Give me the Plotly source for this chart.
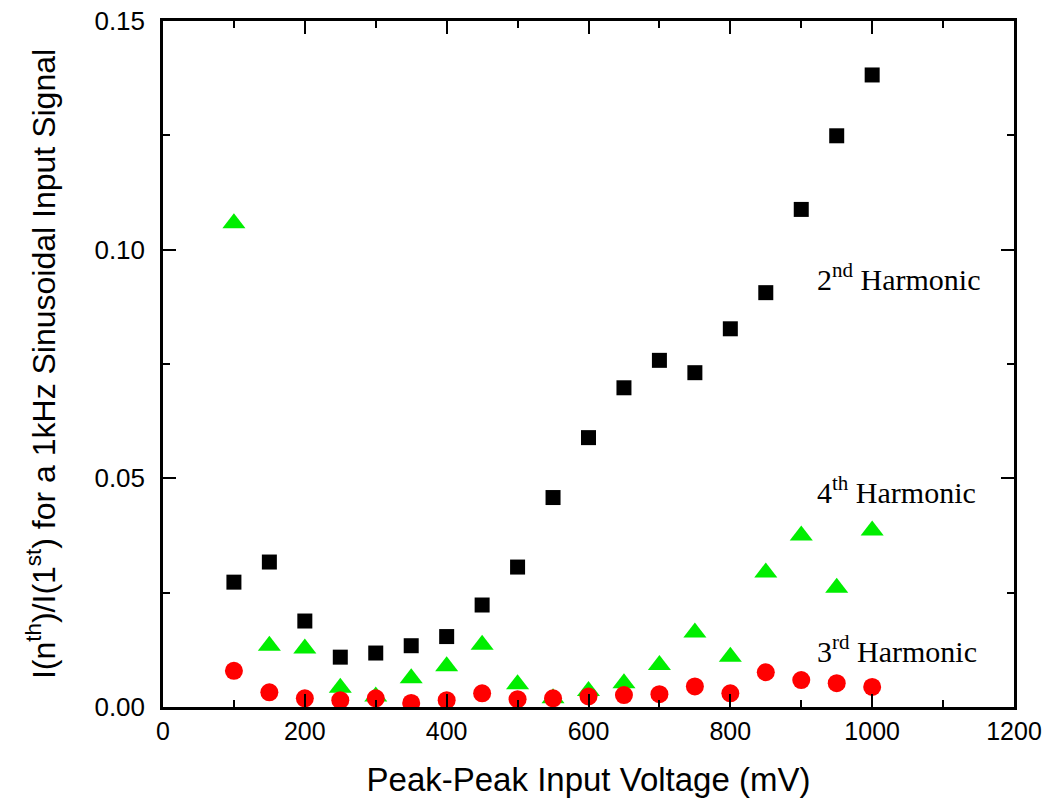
import plotly.graph_objects as go

voltage = [100, 150, 200, 250, 300, 350, 400, 450, 500, 550,
           600, 650, 700, 750, 800, 850, 900, 950, 1000]
second = [0.0273, 0.0317, 0.0188, 0.0109, 0.0118, 0.0134, 0.0154, 0.0223, 0.0306, 0.0458,
          0.0589, 0.0698, 0.0758, 0.0731, 0.0827, 0.0906, 0.1088, 0.1249, 0.1382]
third = [0.0079, 0.0032, 0.0019, 0.0015, 0.0019, 0.0009, 0.0015, 0.0030, 0.0017, 0.0019,
         0.0023, 0.0026, 0.0028, 0.0045, 0.0030, 0.0076, 0.0059, 0.0052, 0.0044]
fourth = [0.1058, 0.0134, 0.0128, 0.0042, 0.0023, 0.0063, 0.0089, 0.0136, 0.0050, 0.0019,
          0.0035, 0.0052, 0.0092, 0.0163, 0.0110, 0.0294, 0.0375, 0.0261, 0.0386]

labels = ["2<sup>nd</sup> Harmonic", "4<sup>th</sup> Harmonic", "3<sup>rd</sup> Harmonic"]
label_x = [920, 920, 920]
label_y = [0.0940, 0.0475, 0.0126]

fig = go.Figure()
fig.add_trace(go.Scatter(x=voltage, y=second, mode="markers",
                         marker=dict(symbol="square", size=15, color="black"),
                         name="2nd"))
fig.add_trace(go.Scatter(x=voltage, y=fourth, mode="markers",
                         marker=dict(symbol="triangle-up", size=20, color="#00ee00"),
                         name="4th"))
fig.add_trace(go.Scatter(x=voltage, y=third, mode="markers",
                         marker=dict(symbol="circle", size=18, color="#ff0000"),
                         name="3rd"))

for t, xx, yy in zip(labels, label_x, label_y):
    fig.add_annotation(x=xx, y=yy, text=t, showarrow=False, xanchor="left", yanchor="middle",
                       font=dict(family="Liberation Serif, Times New Roman", size=30, color="black"))

axis_common = dict(
    showline=True, linecolor="black", linewidth=2.5, mirror="allticks",
    ticks="inside", ticklen=13, tickwidth=2, tickcolor="black",
    showgrid=False, zeroline=False, automargin=False,
)

fig.update_xaxes(range=[0, 1200], dtick=200, tick0=0,
                 minor=dict(ticks="inside", ticklen=7, tickwidth=2, tickcolor="black", dtick=100),
                 title=dict(text="Peak-Peak Input Voltage (mV)", standoff=25,
                            font=dict(family="Liberation Sans, Arial", size=33, color="black")),
                 tickfont=dict(family="Liberation Sans, Arial", size=25, color="black"),
                 ticklabelstandoff=0,
                 **axis_common)
fig.update_yaxes(range=[0, 0.15], dtick=0.05, tick0=0, tickformat=".2f",
                 minor=dict(ticks="inside", ticklen=7, tickwidth=2, tickcolor="black", dtick=0.025),
                 title=dict(text="I(n<sup>th</sup>)/I(1<sup>st</sup>) for a 1kHz Sinusoidal Input Signal",
                            standoff=30,
                            font=dict(family="Liberation Sans, Arial", size=32, color="black")),
                 tickfont=dict(family="Liberation Sans, Arial", size=26, color="black"),
                 ticklabelstandoff=10,
                 **axis_common)

fig.update_layout(width=1047, height=804, showlegend=False,
                  plot_bgcolor="white", paper_bgcolor="white",
                  margin=dict(l=163, r=33, t=21, b=97))

fig.write_html("out.html")
